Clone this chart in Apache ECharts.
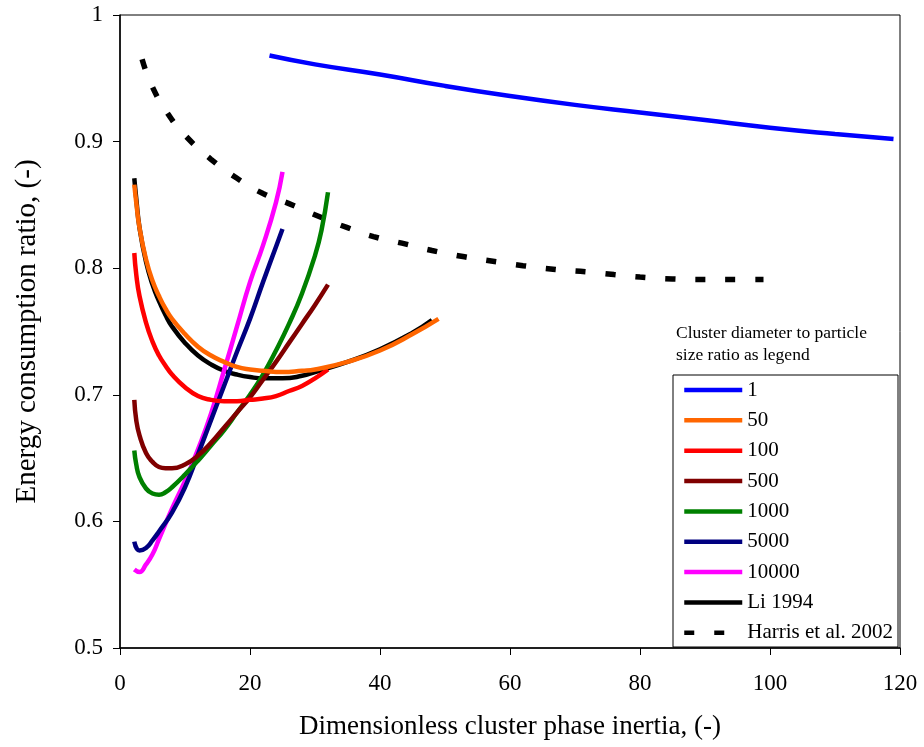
<!DOCTYPE html>
<html>
<head>
<meta charset="utf-8">
<script src="https://cdn.jsdelivr.net/npm/echarts@6/dist/echarts.min.js"></script>
<style>
  html, body { margin: 0; padding: 0; background: #fff; }
  #chart { width: 924px; height: 747px; }
</style>
</head>
<body>
<div id="chart"></div>
<script>
// Energy consumption ratio versus dimensionless cluster phase inertia
const seriesNames = ['1', '50', '100', '500', '1000', '5000', '10000', 'Li 1994', 'Harris et al. 2002'];
const seriesColors = ['#0000ff', '#ff6600', '#ff0000', '#800000', '#008000', '#000080', '#ff00ff', '#000000', '#000000'];

const ratio1 = [[23,0.968],[30,0.961],[40,0.953],[50,0.944],[60,0.936],[70,0.929],[80,0.923],[90,0.917],[100,0.911],[110,0.906],[119,0.902]];
const ratio50 = [[2.2,0.866],[2.5,0.852],[3,0.832],[4,0.807],[5,0.790],[6,0.778],[7,0.768],[8,0.760],[10,0.748],[12,0.738],[14,0.731],[16,0.726],[18,0.722],[20,0.720],[22,0.719],[25,0.718],[28,0.719],[30,0.720],[35,0.726],[40,0.735],[45,0.748],[49,0.760]];
const ratio100 = [[2.2,0.812],[2.5,0.795],[3,0.778],[4,0.757],[5,0.742],[6,0.731],[7,0.723],[8,0.716],[10,0.706],[12,0.699],[14,0.696],[16,0.695],[18,0.695],[20,0.696],[22,0.697],[24,0.699],[26,0.703],[28,0.707],[30,0.713],[32,0.720]];
const ratio500 = [[2.2,0.696],[2.5,0.680],[3,0.668],[4,0.654],[5,0.647],[6,0.643],[7,0.642],[8,0.642],[10,0.645],[12,0.652],[14,0.662],[16,0.674],[18,0.686],[20,0.698],[22,0.712],[24,0.726],[26,0.741],[28,0.756],[30,0.771],[32,0.787]];
const ratio1000 = [[2.2,0.656],[2.5,0.645],[3,0.635],[4,0.626],[5,0.622],[6,0.621],[7,0.623],[8,0.627],[10,0.637],[12,0.648],[14,0.660],[16,0.672],[18,0.686],[20,0.700],[22,0.716],[24,0.735],[26,0.756],[28,0.780],[30,0.810],[31,0.830],[32,0.860]];
const ratio5000 = [[2.2,0.584],[3,0.577],[4,0.579],[5,0.585],[6,0.592],[8,0.607],[10,0.627],[12,0.653],[14,0.680],[16,0.707],[18,0.734],[20,0.760],[22,0.789],[24,0.817],[25,0.831]];
const ratio10000 = [[2.2,0.562],[3,0.560],[4,0.566],[5,0.574],[6,0.586],[8,0.610],[10,0.632],[12,0.657],[14,0.685],[16,0.719],[18,0.754],[20,0.789],[22,0.818],[24,0.852],[25,0.876]];
const li1994 = [[2.2,0.871],[2.5,0.855],[3,0.832],[4,0.805],[5,0.787],[6,0.774],[7,0.763],[8,0.754],[10,0.741],[12,0.731],[14,0.724],[16,0.719],[18,0.716],[20,0.714],[22,0.713],[25,0.713],[28,0.715],[30,0.718],[35,0.726],[40,0.736],[45,0.749],[48,0.759]];
const harris2002 = [[3.4,0.965],[5,0.943],[7.5,0.921],[10,0.905],[14,0.886],[18,0.871],[22,0.859],[26,0.851],[31,0.840],[35,0.832],[39,0.825],[44,0.819],[48,0.814],[53,0.809],[58,0.805],[62,0.802],[67,0.799],[72,0.797],[76,0.795],[80,0.793],[85,0.7915],[90,0.791],[95,0.791],[99,0.791]];

const seriesData = [ratio1, ratio50, ratio100, ratio500, ratio1000, ratio5000, ratio10000, li1994, harris2002];

const serif = '"Liberation Serif", "DejaVu Serif", serif';

const chart = echarts.init(document.getElementById('chart'));

const series = seriesNames.map((name, i) => ({
  name: name,
  type: 'line',
  data: seriesData[i],
  smooth: true,
  showSymbol: false,
  symbol: 'none',
  z: 10 - i,
  lineStyle: {
    color: seriesColors[i],
    width: i === 8 ? 5.5 : 4.5,
    type: i === 8 ? [10, 20] : 'solid'
  },
  itemStyle: { color: seriesColors[i] }
}));

chart.setOption({
  animation: false,
  backgroundColor: '#ffffff',
  title: {
    text: 'Cluster diameter to particle\nsize ratio as legend',
    left: 671,
    top: 317,
    textStyle: { fontFamily: serif, fontSize: 17.5, fontWeight: 'normal', color: '#000', lineHeight: 22 }
  },
  grid: {
    left: 120, right: 24, top: 15, bottom: 99,
    show: true, borderColor: '#000', borderWidth: 1, backgroundColor: 'transparent'
  },
  graphic: [{
    type: 'rect',
    shape: { x: 673, y: 375, width: 225, height: 272 },
    style: { fill: '#fff', stroke: '#000', lineWidth: 1 },
    z: 50
  }],
  legend: {
    orient: 'vertical',
    left: 682,
    top: 379.5,
    padding: 0,
    itemWidth: 58,
    itemHeight: 14,
    itemGap: 9.35,
    z: 60,
    itemStyle: { opacity: 0 },
    lineStyle: { width: 4.5 },
    textStyle: { fontFamily: serif, fontSize: 21, color: '#000' },
    data: seriesNames
  },
  xAxis: {
    type: 'value',
    min: 0, max: 120, interval: 20,
    name: 'Dimensionless cluster phase inertia, (-)',
    nameLocation: 'middle',
    nameGap: 65,
    nameTextStyle: { fontFamily: serif, fontSize: 27, color: '#000' },
    axisLine: { show: true, lineStyle: { color: '#000', width: 1.5 } },
    axisTick: { show: true, inside: false, length: 7, lineStyle: { color: '#000' } },
    axisLabel: { fontFamily: serif, fontSize: 23, color: '#000', margin: 24 },
    splitLine: { show: false }
  },
  yAxis: {
    type: 'value',
    min: 0.5, max: 1, interval: 0.1,
    name: 'Energy consumption ratio, (-)',
    nameLocation: 'middle',
    nameGap: 78,
    nameTextStyle: { fontFamily: serif, fontSize: 29, color: '#000' },
    axisLine: { show: true, lineStyle: { color: '#000', width: 1.5 } },
    axisTick: { show: true, inside: false, length: 7, lineStyle: { color: '#000' } },
    axisLabel: { fontFamily: serif, fontSize: 23, color: '#000', margin: 17 },
    splitLine: { show: false }
  },
  series: series
});
</script>
</body>
</html>
